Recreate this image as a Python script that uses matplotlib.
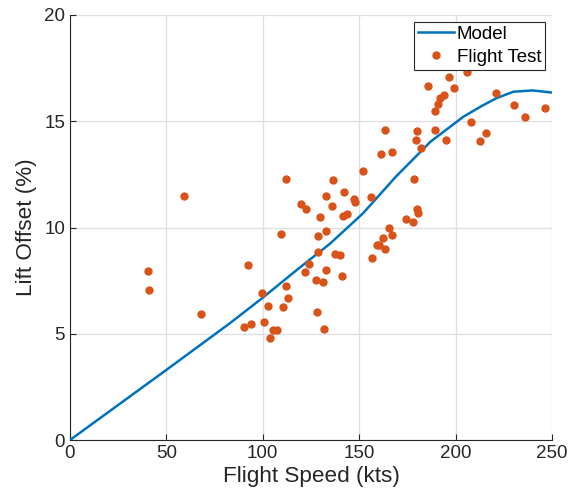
import numpy as np
import matplotlib.pyplot as plt

plt.rcParams['font.family'] = ['Liberation Sans', 'DejaVu Sans']

# model curve
model_speed = [0, 50, 83, 100, 117.6, 135, 152, 169, 187, 204, 213, 221, 230, 240, 250]
model_lift = [0, 3.3, 5.5, 6.7, 8.0, 9.25, 10.67, 12.39, 14.04, 15.21, 15.69, 16.08, 16.39, 16.45, 16.35]

# flight test points
test_speed = [40.3, 41.1, 59.1, 68.1, 92.5, 90.2, 93.9, 99.7, 100.6, 102.5, 103.6, 105.1, 107.4,
              109.6, 111.9, 111.9, 113.1, 110.5, 119.8, 122.6, 122.1, 123.8, 127.4, 128.1, 129.5,
              128.5, 128.8, 131.1, 131.6, 132.6, 132.8, 132.8, 136.1, 136.2, 137.4, 140.2, 141.3,
              141.4, 143.7, 142.3, 147.1, 148.0, 152.1, 156.3, 156.8, 159.2, 160.3, 162.2, 163.2,
              165.3, 167.0, 161.1, 163.4, 166.8, 174.4, 177.7, 178.3, 179.8, 180.7, 179.5, 180.0,
              182.2, 185.5, 189.3, 189.3, 190.7, 191.9, 194.1, 196.6, 199.3, 195.2, 206.1, 208.1,
              212.7, 215.9, 220.8, 230.1, 235.8, 246.5]
test_lift = [7.97, 7.06, 11.47, 5.94, 8.25, 5.32, 5.47, 6.93, 5.55, 6.31, 4.8, 5.16, 5.18,
             9.68, 12.27, 7.26, 6.67, 6.24, 11.12, 10.87, 7.92, 8.27, 7.55, 6.02, 10.51,
             9.61, 8.85, 7.42, 5.21, 7.98, 9.84, 11.5, 11.03, 12.22, 8.74, 8.69, 7.7,
             10.56, 10.64, 11.67, 11.36, 11.21, 12.66, 11.44, 8.58, 9.2, 9.19, 9.52, 9.0,
             9.99, 9.63, 13.45, 14.6, 13.54, 10.38, 10.26, 12.3, 10.87, 10.67, 14.12, 14.56,
             13.73, 16.66, 15.47, 14.59, 15.8, 16.11, 16.24, 17.07, 16.58, 14.12, 17.33, 14.96,
             14.09, 14.45, 16.34, 15.75, 15.2, 15.64]

fig = plt.figure(figsize=(5.77, 5.03), dpi=100)
ax = fig.add_axes([0.1213, 0.1252, 0.8354, 0.845])

ax.plot(model_speed, model_lift, color='#0072BD', lw=1.8, label='Model', zorder=3)
ax.plot(test_speed, test_lift, 'o', color='#D95319', ms=5, label='Flight Test', zorder=4)

ax.set_xlim(0, 250)
ax.set_ylim(0, 20)
ax.set_xticks(np.arange(0, 251, 50))
ax.set_yticks(np.arange(0, 21, 5))
ax.grid(True, color='#dfdfdf', lw=0.9)
ax.set_axisbelow(True)
for s in ['top', 'right']:
    ax.spines[s].set_visible(False)
for s in ['left', 'bottom']:
    ax.spines[s].set_color('#262626')
    ax.spines[s].set_linewidth(0.8)
ax.tick_params(direction='in', length=4, labelsize=13.5, colors='#262626', width=0.8)
ax.set_xlabel('Flight Speed (kts)', fontsize=16.2, color='#262626', labelpad=3)
ax.set_ylabel('Lift Offset (%)', fontsize=16.2, color='#262626', labelpad=5)

leg = ax.legend(loc='upper right', fontsize=13.5, fancybox=False, framealpha=1,
                edgecolor='#262626', handlelength=1.9, handletextpad=0.15,
                borderpad=0.22, labelspacing=0.3, borderaxespad=0.35)
leg.get_frame().set_linewidth(0.8)

fig.savefig('out.png', dpi=100)
